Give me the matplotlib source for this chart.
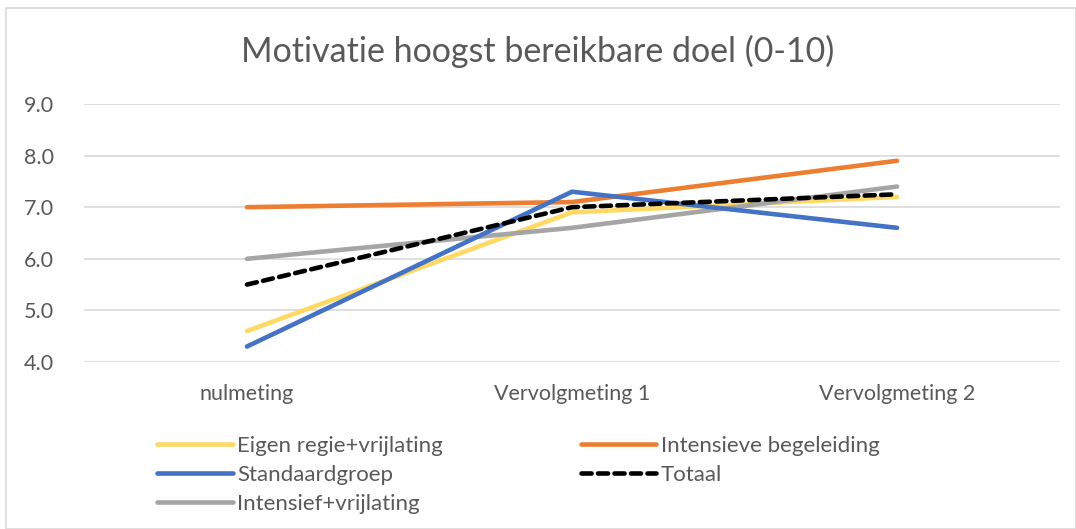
import matplotlib.pyplot as plt
from matplotlib.patches import Rectangle

plt.rcParams['font.family'] = ['Lato', 'DejaVu Sans']

categories = ['nulmeting', 'Vervolgmeting 1', 'Vervolgmeting 2']
eigen_regie = [4.6, 6.9, 7.2]
intensieve = [7.0, 7.1, 7.9]
standaard = [4.3, 7.3, 6.6]
totaal = [5.5, 7.0, 7.25]
intensief_vrij = [6.0, 6.6, 7.4]

fig = plt.figure(figsize=(10.76, 5.29), dpi=100)
fig.patches.append(Rectangle((0.006, 0.0), 0.994, 0.985, transform=fig.transFigure,
                             fill=False, edgecolor='#D9D9D9', linewidth=1.2))
ax = fig.add_axes([0.0785, 0.3157, 0.9062, 0.4877])

x = range(len(categories))
lw = 3.3
l1, = ax.plot(x, eigen_regie, color='#FFD966', lw=lw, solid_capstyle='round', label='Eigen regie+vrijlating', zorder=3)
l2, = ax.plot(x, intensieve, color='#ED7D31', lw=lw, solid_capstyle='round', label='Intensieve begeleiding', zorder=3)
l3, = ax.plot(x, standaard, color='#4472C4', lw=lw, solid_capstyle='round', label='Standaardgroep', zorder=4)
l5, = ax.plot(x, intensief_vrij, color='#A5A5A5', lw=lw, solid_capstyle='round', label='Intensief+vrijlating', zorder=3)
l4, = ax.plot(x, totaal, color='black', lw=lw, ls=(0, (2.2, 1.4)), dash_capstyle='round', label='Totaal', zorder=5)

ax.set_xlim(-0.5, 2.5)
ax.set_ylim(4.0, 9.0)
ax.set_yticks([4, 5, 6, 7, 8, 9])
ax.set_yticklabels(['%.1f' % v for v in [4, 5, 6, 7, 8, 9]])
ax.set_xticks(list(x))
ax.set_xticklabels(categories)
ax.grid(axis='y', color='#D9D9D9', lw=1.2)
ax.set_axisbelow(True)
for s in ax.spines.values():
    s.set_visible(False)
ax.tick_params(length=0, labelsize=15.5, colors='#595959', pad=16)
ax.tick_params(axis='y', pad=22)

fig.text(0.5, 0.903, 'Motivatie hoogst bereikbare doel (0-10)', ha='center', va='center',
         fontsize=24.5, color='#595959')

fig.legend(handles=[l1, l3, l5, l2, l4], loc='upper left', bbox_to_anchor=(0.1273, 0.2136),
           ncol=2, frameon=False, fontsize=16, handlelength=3.4, handletextpad=0.2,
           columnspacing=6.2, labelspacing=0.4, labelcolor='#595959')

fig.savefig('out.png', dpi=100)
